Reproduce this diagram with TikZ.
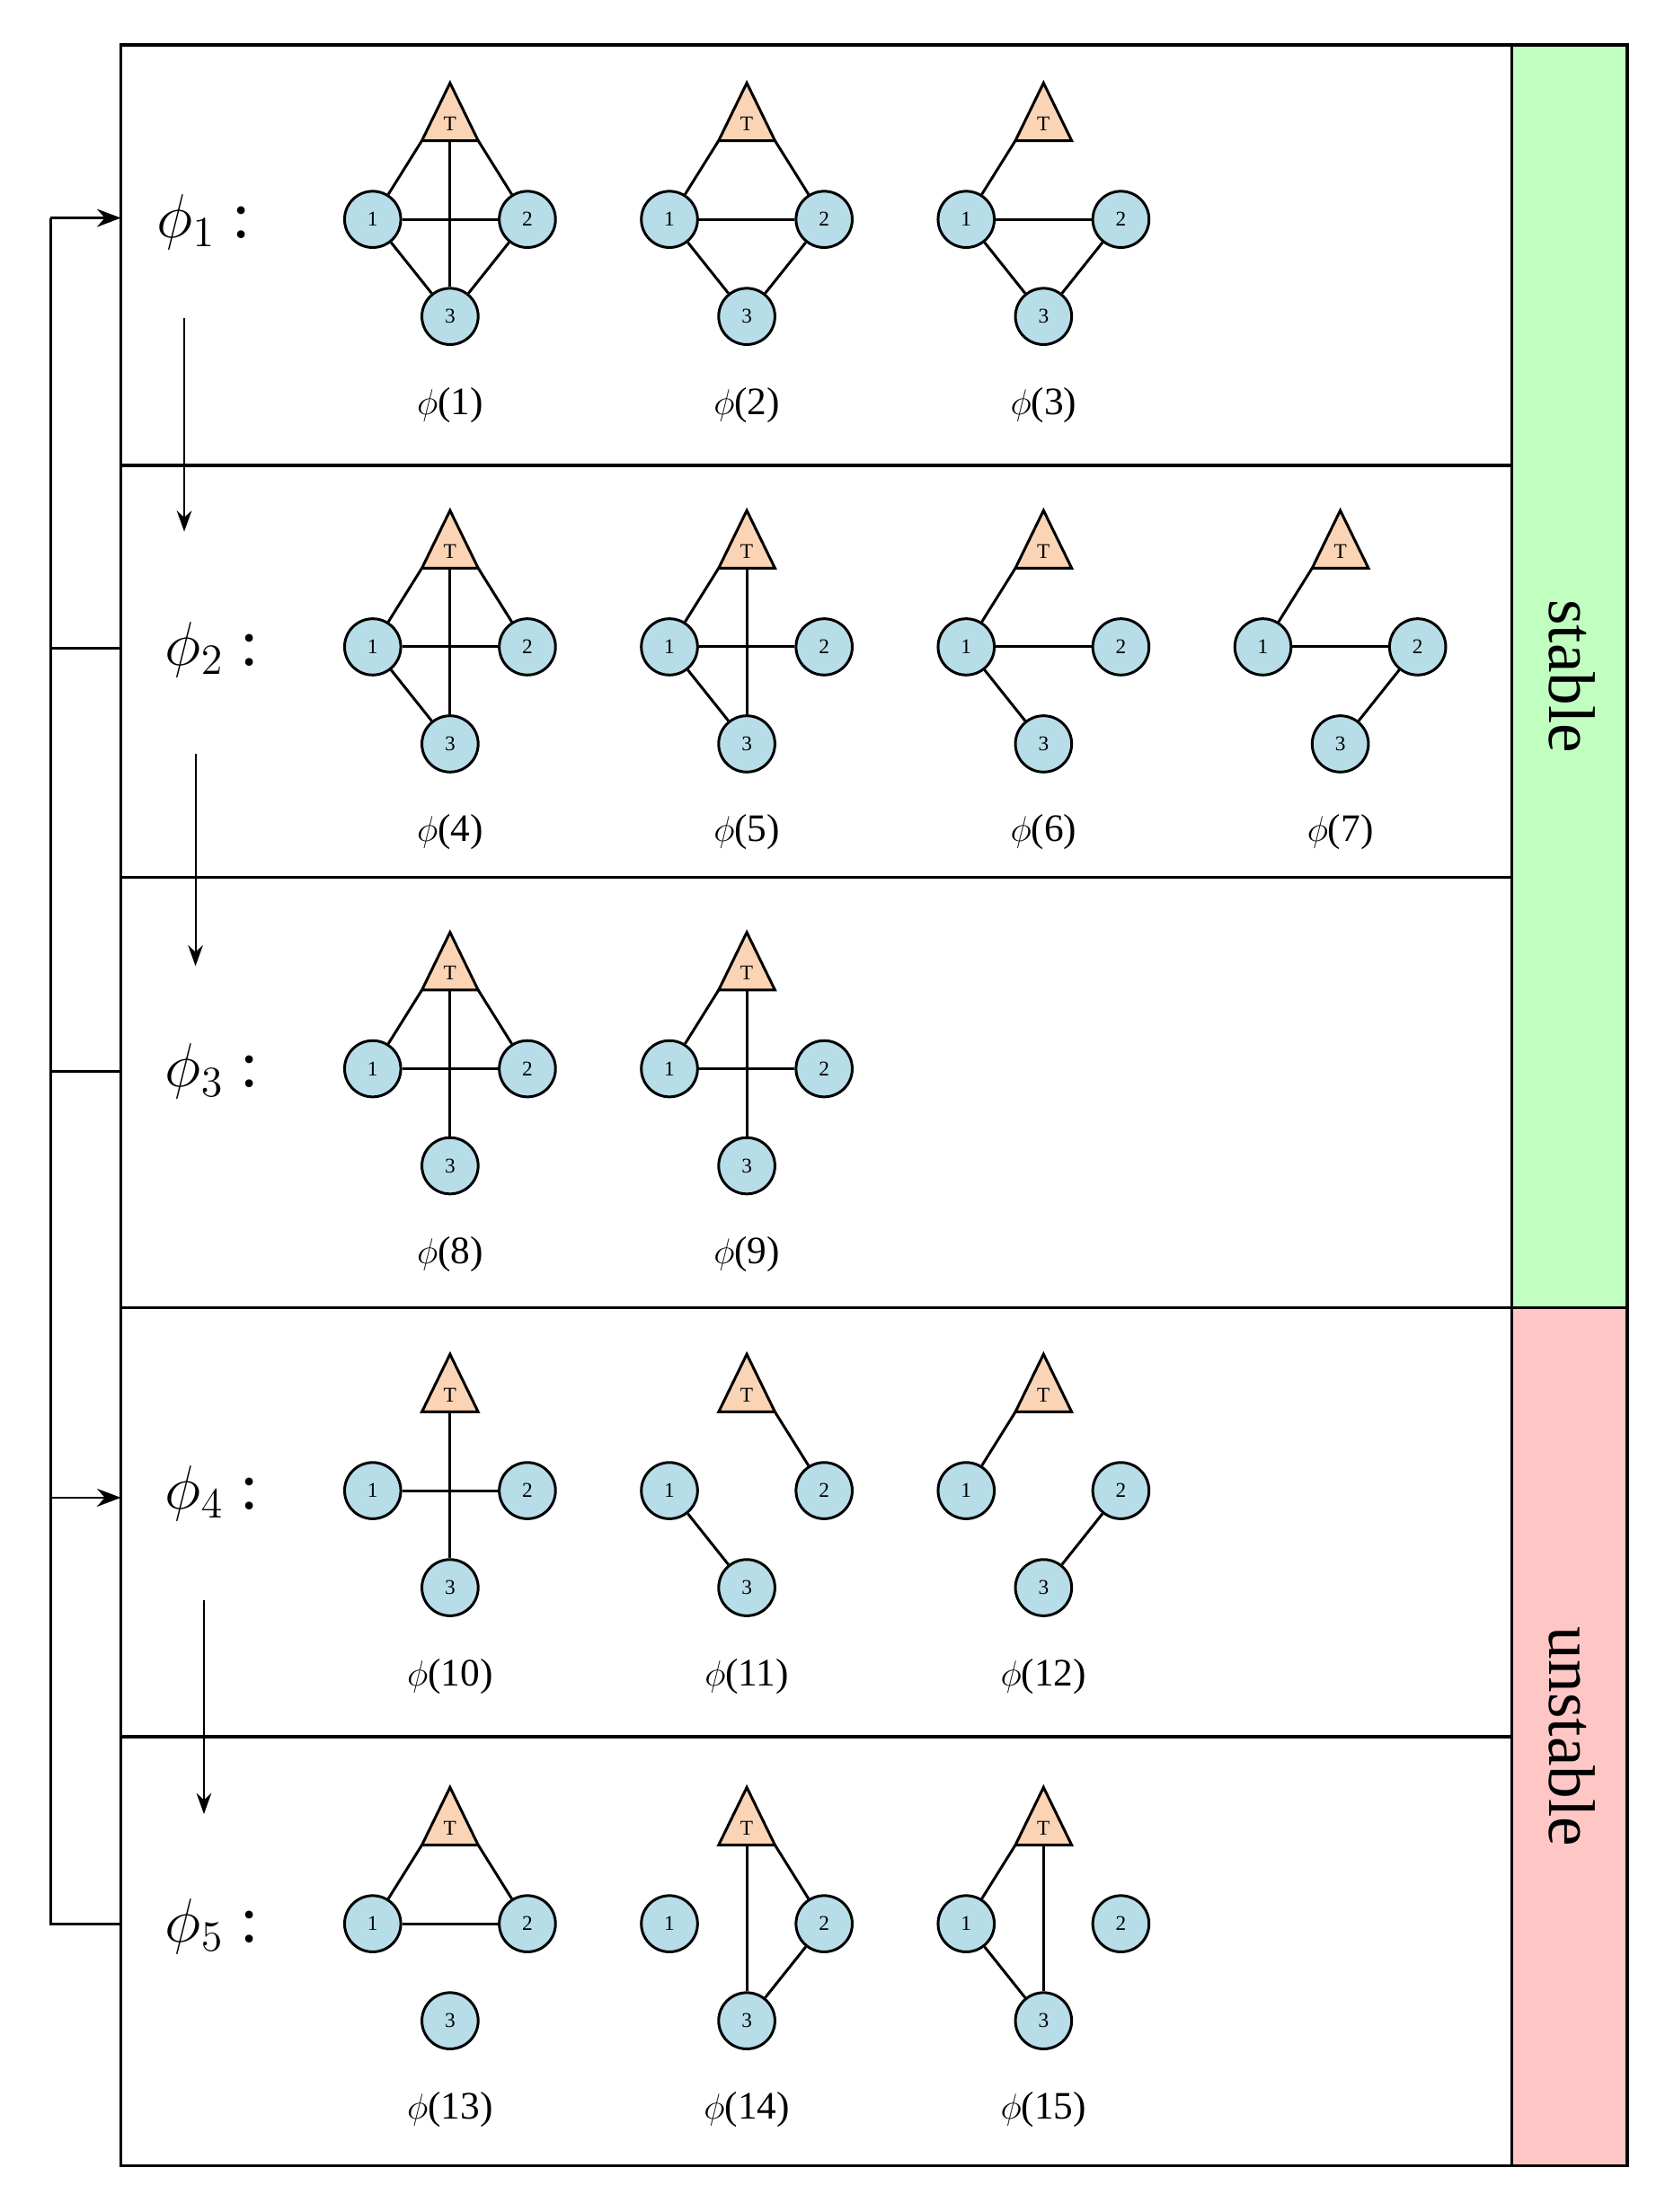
\documentclass[tikz,border=0pt]{standalone}
\usepackage{fontspec}
\setmainfont{Liberation Serif}
\usetikzlibrary{arrows.meta}
\begin{document}
\begin{tikzpicture}[x=0.47pt,y=-0.47pt,
  nd/.style={circle,draw,line width=0.9pt,fill=nodeblue,minimum size=18.8pt,inner sep=0pt,font=\fontsize{7}{7}\selectfont},
  tri/.style={draw,line width=0.9pt,fill=peach,line join=miter},
  ed/.style={line width=0.9pt},
  box/.style={line width=1pt},
  arr/.style={line width=0.6pt,-{Stealth[length=7pt,width=5pt]}},
  lnk/.style={line width=0.8pt},
  lab/.style={font=\fontsize{13}{13}\selectfont},
  rlab/.style={font=\fontsize{22}{22}\selectfont}]
\definecolor{nodeblue}{HTML}{B7DDE8}
\definecolor{peach}{HTML}{FAD4B4}
\definecolor{stg}{HTML}{C0FFC0}
\definecolor{unp}{HTML}{FFC6C6}
\useasboundingbox (0,0) rectangle (1190,1573);
\newcommand\Gr[5]{%
  \draw[tri] (#1,#2-97) -- (#1+20,#2-56) -- (#1-20,#2-56) -- cycle;
  \node[font=\fontsize{7}{7}\selectfont,inner sep=0pt] (#3-T) at (#1,#2-68) {T};
  \coordinate (#3-Tl) at (#1-20,#2-56);
  \coordinate (#3-Tr) at (#1+20,#2-56);
  \coordinate (#3-Tb) at (#1,#2-56);
  \node[nd] (#3-1) at (#1-55,#2) {1};
  \node[nd] (#3-2) at (#1+55,#2) {2};
  \node[nd] (#3-3) at (#1,#2+69) {3};
  \foreach \a/\b in {#5} {\draw[ed] (#3-\a) -- (#3-\b);}
  \node[lab] (#3-lab) at (#1,#2+132) {$\phi$(#4)};
}
% side band
\fill[stg] (1075,32) rectangle (1157,930);
\fill[unp] (1075,930) rectangle (1157,1540);
\draw[box] (86,32) rectangle (1157,1540);
\draw[box] (1075,32) -- (1075,1540);
\draw[box] (86,331) -- (1075,331);
\draw[box] (86,624) -- (1075,624);
\draw[box] (86,930) -- (1157,930);
\draw[box] (86,1235) -- (1075,1235);
\node[rlab,rotate=-90] (st) at (1118,481) {stable};
\node[rlab,rotate=-90] (un) at (1118,1235) {unstable};
% row labels
\node[rlab,anchor=west] (r1) at (104,158) {$\phi_1$ :};
\node[rlab,anchor=west] (r2) at (110,462) {$\phi_2$ :};
\node[rlab,anchor=west] (r3) at (110,762) {$\phi_3$ :};
\node[rlab,anchor=west] (r4) at (110,1062) {$\phi_4$ :};
\node[rlab,anchor=west] (r5) at (110,1370) {$\phi_5$ :};
% left connectors
\coordinate (L1) at (36,155); \coordinate (R1) at (86,155);
\coordinate (L2) at (36,461); \coordinate (R2) at (86,461);
\coordinate (L3) at (36,762); \coordinate (R3) at (86,762);
\coordinate (L4) at (36,1065); \coordinate (R4) at (86,1065);
\coordinate (L5) at (36,1368); \coordinate (R5) at (86,1368);
\draw[lnk] (R5) -- (L5) -- (L1);
\draw[lnk,-{Stealth[length=8pt,width=6pt]}] (L1) -- (R1);
\draw[lnk,-{Stealth[length=8pt,width=6pt]}] (L4) -- (R4);
\draw[lnk] (L2) -- (R2);
\draw[lnk] (L3) -- (R3);
% down arrows
\coordinate (a1) at (131,226); \coordinate (b1) at (131,378);
\coordinate (a2) at (139,536); \coordinate (b2) at (139,687);
\coordinate (a4) at (145,1138); \coordinate (b4) at (145,1290);
\draw[arr] (a1) -- (b1);
\draw[arr] (a2) -- (b2);
\draw[arr] (a4) -- (b4);
% graphs
\Gr{320}{156}{g1}{1}{Tl/1,Tr/2,Tb/3,1/2,1/3,2/3}
\Gr{531}{156}{g2}{2}{Tl/1,Tr/2,1/2,1/3,2/3}
\Gr{742}{156}{g3}{3}{Tl/1,1/2,1/3,2/3}
\Gr{320}{460}{g4}{4}{Tl/1,Tr/2,Tb/3,1/2,1/3}
\Gr{531}{460}{g5}{5}{Tl/1,Tb/3,1/2,1/3}
\Gr{742}{460}{g6}{6}{Tl/1,1/2,1/3}
\Gr{953}{460}{g7}{7}{Tl/1,1/2,2/3}
\Gr{320}{760}{g8}{8}{Tl/1,Tr/2,Tb/3,1/2}
\Gr{531}{760}{g9}{9}{Tl/1,Tb/3,1/2}
\Gr{320}{1060}{g10}{10}{Tb/3,1/2}
\Gr{531}{1060}{g11}{11}{Tr/2,1/3}
\Gr{742}{1060}{g12}{12}{Tl/1,2/3}
\Gr{320}{1368}{g13}{13}{Tl/1,Tr/2,1/2}
\Gr{531}{1368}{g14}{14}{Tb/3,Tr/2,2/3}
\Gr{742}{1368}{g15}{15}{Tl/1,Tb/3,1/3}
\end{tikzpicture}
\end{document}
